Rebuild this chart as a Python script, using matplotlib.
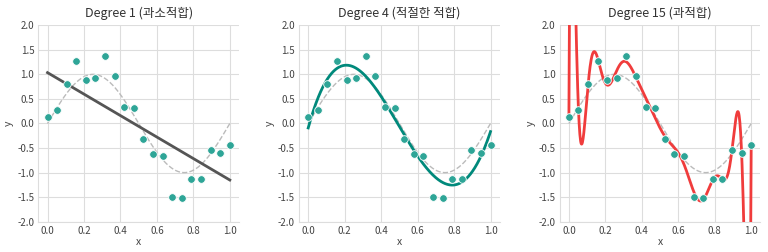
import numpy as np
import matplotlib
matplotlib.use('Agg')
import matplotlib.pyplot as plt

plt.rcParams['font.family'] = ['Noto Sans CJK KR', 'DejaVu Sans']
plt.rcParams['axes.unicode_minus'] = False

# sample points
x_data = np.linspace(0, 1, 20)
y_data = np.array([0.14, 0.27, 0.80, 1.28, 0.89, 0.92, 1.38, 0.96, 0.33, 0.31,
                   -0.31, -0.62, -0.66, -1.49, -1.52, -1.14, -1.14, -0.53, -0.60, -0.43])

degrees = [1, 4, 15]
titles = ['Degree 1 (과소적합)', 'Degree 4 (적절한 적합)', 'Degree 15 (과적합)']
line_colors = ['#555555', '#00897b', '#f03c3c']

x_plot = np.linspace(0, 1, 500)
y_true = np.sin(2 * np.pi * x_plot)

fig, axes = plt.subplots(1, 3, figsize=(7.68, 2.52), dpi=100)
fig.subplots_adjust(left=0.05, right=0.99, top=0.9, bottom=0.12, wspace=0.3)

for ax, deg, title, c in zip(axes, degrees, titles, line_colors):
    p = np.polynomial.Polynomial.fit(x_data, y_data, deg)
    ax.plot(x_plot, y_true, '--', color='#bbbbbb', lw=1, zorder=2)
    ax.plot(x_plot, p(x_plot), color=c, lw=2, zorder=3)
    ax.scatter(x_data, y_data, s=30, color='#2ea597', edgecolor='white', linewidth=0.6, zorder=4)
    ax.set_xlim(-0.05, 1.05)
    ax.set_ylim(-2, 2)
    ax.set_xticks([0, 0.2, 0.4, 0.6, 0.8, 1.0])
    ax.set_yticks(np.arange(-2, 2.01, 0.5))
    ax.set_title(title, fontsize=9, color='#333333')
    ax.set_xlabel('x', fontsize=7.5, color='#444444', labelpad=1)
    ax.set_ylabel('y', fontsize=7.5, color='#444444', labelpad=2)
    ax.tick_params(labelsize=7, colors='#444444', length=0, pad=3)
    ax.grid(True, color='#dddddd', lw=0.8)
    ax.set_axisbelow(True)
    for s in ['top', 'right']:
        ax.spines[s].set_visible(False)
    for s in ['left', 'bottom']:
        ax.spines[s].set_color('#dddddd')

plt.savefig('out.png')
